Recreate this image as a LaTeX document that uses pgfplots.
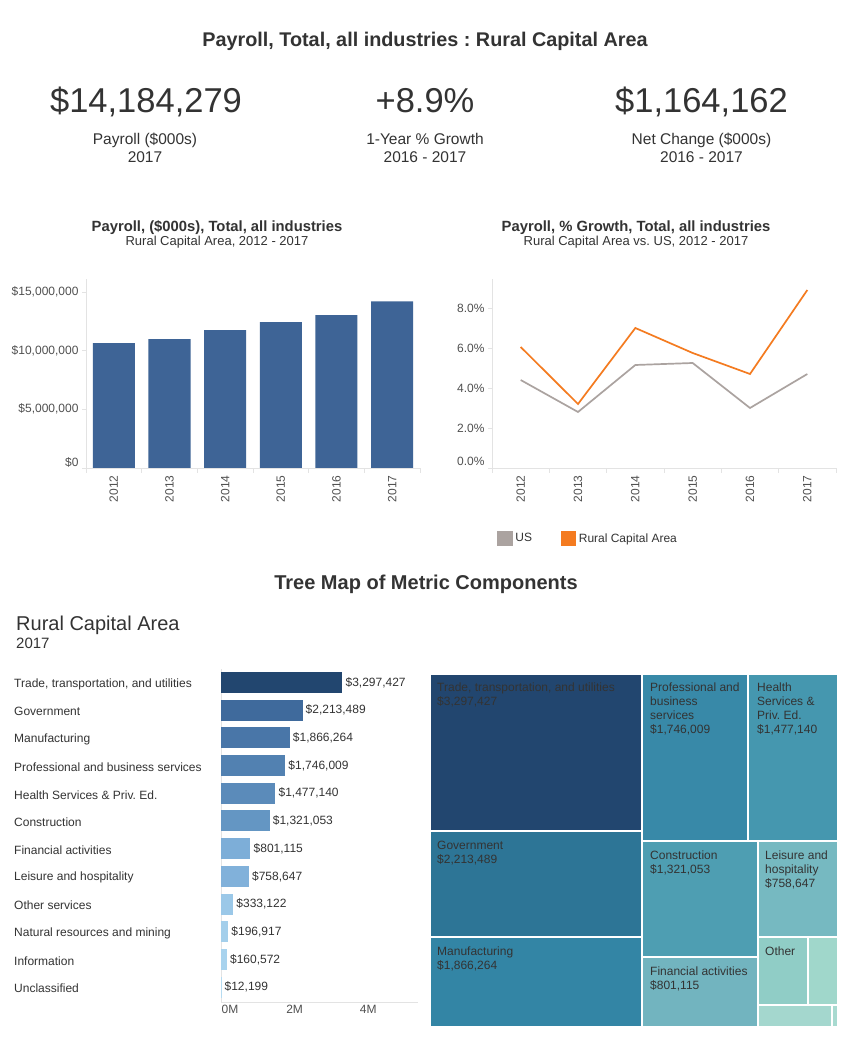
\documentclass[border=0pt]{standalone}
\usepackage{fontspec}
\setmainfont{Liberation Sans}
\usepackage{pgfplots}
\pgfplotsset{compat=1.18}
\frenchspacing

\definecolor{txt}{HTML}{333333}
\definecolor{tickc}{HTML}{505050}
\definecolor{axisgray}{HTML}{E3E3E3}
\definecolor{barblue}{HTML}{3E6496}
\definecolor{rcaorange}{HTML}{F47B20}
\definecolor{usgray}{HTML}{ABA3A0}
% horizontal bars
\definecolor{h1}{HTML}{22466F}
\definecolor{h2}{HTML}{3F6A9C}
\definecolor{h3}{HTML}{4976A8}
\definecolor{h4}{HTML}{5281B1}
\definecolor{h5}{HTML}{5B8BBA}
\definecolor{h6}{HTML}{6496C3}
\definecolor{h7}{HTML}{7DAED8}
\definecolor{h8}{HTML}{81B1DA}
\definecolor{h9}{HTML}{9BC8E8}
\definecolor{h10}{HTML}{A4CFEB}
\definecolor{h11}{HTML}{A8D3EE}
\definecolor{h12}{HTML}{B5DBF1}
% treemap
\definecolor{t1}{HTML}{22466F}
\definecolor{t2}{HTML}{2D7596}
\definecolor{t3}{HTML}{3385A5}
\definecolor{t4}{HTML}{3889A8}
\definecolor{t5}{HTML}{4597AF}
\definecolor{t6}{HTML}{4E9EB2}
\definecolor{t7}{HTML}{72B4BF}
\definecolor{t8}{HTML}{76B9C1}
\definecolor{t9}{HTML}{90CDC6}
\definecolor{t10}{HTML}{A0D7CB}
\definecolor{t11}{HTML}{A4D7CE}
\definecolor{t12}{HTML}{A8DAD0}

\pgfplotsset{
  hb/.style 2 args={xbar, bar width=21pt, bar shift=0pt, fill=#1, draw=none,
    nodes near coords={#2},
    every node near coord/.append style={anchor=west, inner sep=0pt, xshift=3pt,
      font=\fontsize{12}{14}\selectfont, text=txt}},
  tm/.style={fill=#1, draw=white, line width=1.2pt},
}
\tikzset{
  tmlabel/.style={anchor=north west, align=left, inner sep=0pt,
    font=\fontsize{12}{14}\selectfont, text=txt},
}

\begin{document}
\begin{tikzpicture}
\path[use as bounding box, fill=white] (0,0) rectangle (849pt,1038pt);

% ---- Header ----
\node[anchor=base, font=\fontsize{19.8}{23}\selectfont\bfseries, text=txt, inner sep=0pt]
  at (425pt,991pt) {Payroll, Total, all industries : Rural Capital Area};

\node[anchor=base, font=\fontsize{34.5}{40}\selectfont, text=txt, inner sep=0pt] at (146pt,925pt) {\$14,184,279};
\node[anchor=base, font=\fontsize{34.5}{40}\selectfont, text=txt, inner sep=0pt] at (425pt,925pt) {+8.9\%};
\node[anchor=base, font=\fontsize{34.5}{40}\selectfont, text=txt, inner sep=0pt] at (701.5pt,925pt) {\$1,164,162};

\node[anchor=base, font=\fontsize{15.5}{18}\selectfont, text=txt, inner sep=0pt] at (145pt,893pt) {Payroll (\$000s)};
\node[anchor=base, font=\fontsize{15.5}{18}\selectfont, text=txt, inner sep=0pt] at (145pt,875pt) {2017};
\node[anchor=base, font=\fontsize{15.5}{18}\selectfont, text=txt, inner sep=0pt] at (425pt,893pt) {1-Year \% Growth};
\node[anchor=base, font=\fontsize{15.5}{18}\selectfont, text=txt, inner sep=0pt] at (425pt,875pt) {2016 - 2017};
\node[anchor=base, font=\fontsize{15.5}{18}\selectfont, text=txt, inner sep=0pt] at (701.5pt,893pt) {Net Change (\$000s)};
\node[anchor=base, font=\fontsize{15.5}{18}\selectfont, text=txt, inner sep=0pt] at (701.5pt,875pt) {2016 - 2017};

% ---- chart titles ----
\node[anchor=base, font=\fontsize{14.8}{17}\selectfont\bfseries, text=txt, inner sep=0pt] at (217pt,806pt) {Payroll, (\$000s), Total, all industries};
\node[anchor=base, font=\fontsize{13}{15}\selectfont, text=txt, inner sep=0pt] at (217pt,792pt) {Rural Capital Area, 2012 - 2017};
\node[anchor=base, font=\fontsize{14.8}{17}\selectfont\bfseries, text=txt, inner sep=0pt] at (636pt,806pt) {Payroll, \% Growth, Total, all industries};
\node[anchor=base, font=\fontsize{13}{15}\selectfont, text=txt, inner sep=0pt] at (636pt,792pt) {Rural Capital Area vs. US, 2012 - 2017};

% ---- Bar chart ----
\begin{axis}[
  at={(86pt,570pt)}, anchor=south west,
  scale only axis, width=334pt, height=189pt,
  xmin=-0.5, xmax=5.5, ymin=0, ymax=16.1e6,
  axis lines*=left,
  axis line style={draw=axisgray, line width=0.8pt},
  xtick={0,1,2,3,4,5}, xticklabels={2012,2013,2014,2015,2016,2017},
  major x tick style={draw=none},
  minor xtick={-0.5,0.5,1.5,2.5,3.5,4.5,5.5},
  minor tick length=5pt,
  ytick={5e6,10e6,15e6},
  yticklabels={{\$5,000,000},{\$10,000,000},{\$15,000,000}},
  extra y ticks={0}, extra y tick labels={\$0},
  extra y tick style={yticklabel style={yshift=6pt}},
  scaled y ticks=false,
  tick align=outside, major tick length=4pt,
  tick style={draw=axisgray, line width=0.8pt},
  ticklabel style={font=\fontsize{12}{14}\selectfont, text=tickc},
  xticklabel style={rotate=90, anchor=east},
]
\addplot[ybar, bar width=42pt, bar shift=0pt, fill=barblue, draw=none]
  coordinates {(0,10640000) (1,10980000) (2,11750000) (3,12435640) (4,13020117) (5,14184279)};
\end{axis}

% ---- Line chart ----
\begin{axis}[
  at={(492pt,570pt)}, anchor=south west,
  scale only axis, width=344pt, height=189pt,
  xmin=-0.5, xmax=5.5, ymin=0, ymax=9.45,
  axis lines*=left,
  axis line style={draw=axisgray, line width=0.8pt},
  xtick={0,1,2,3,4,5}, xticklabels={2012,2013,2014,2015,2016,2017},
  major x tick style={draw=none},
  minor xtick={-0.5,0.5,1.5,2.5,3.5,4.5,5.5},
  minor tick length=5pt,
  ytick={2,4,6,8}, yticklabels={2.0\%,4.0\%,6.0\%,8.0\%},
  extra y ticks={0}, extra y tick labels={0.0\%},
  extra y tick style={yticklabel style={yshift=7pt}},
  tick align=outside, major tick length=4pt,
  tick style={draw=axisgray, line width=0.8pt},
  ticklabel style={font=\fontsize{12}{14}\selectfont, text=tickc},
  xticklabel style={rotate=90, anchor=east},
  legend columns=2,
  legend style={at={(0.006,-0.373)}, anchor=west, draw=none, fill=none,
    font=\fontsize{12}{14}\selectfont, text=txt,
    nodes={inner sep=2.5pt},
    /tikz/every even column/.append style={column sep=26pt}},
  legend cell align=left,
  legend image code/.code={\fill[#1] (0pt,-6.5pt) rectangle (14pt,6.5pt);},
]
\addplot[usgray, line width=1.7pt] coordinates {(0,4.4) (1,2.8) (2,5.15) (3,5.25) (4,3.0) (5,4.7)};
\addlegendentry{US}
\addplot[rcaorange, line width=1.7pt] coordinates {(0,6.05) (1,3.2) (2,7.0) (3,5.75) (4,4.7) (5,8.9)};
\addlegendentry{Rural Capital Area}
\end{axis}

% ---- Treemap section titles ----
\node[anchor=base, font=\fontsize{20}{24}\selectfont\bfseries, text=txt, inner sep=0pt] at (426pt,448pt) {Tree Map of Metric Components};
\node[anchor=base west, font=\fontsize{20}{24}\selectfont, text=txt, inner sep=0pt] at (16pt,407pt) {Rural Capital Area};
\node[anchor=base west, font=\fontsize{15}{18}\selectfont, text=txt, inner sep=0pt] at (16pt,389pt) {2017};

% ---- Horizontal bar chart ----
\begin{axis}[
  at={(221pt,36pt)}, anchor=south west,
  scale only axis, width=197pt, height=333pt,
  xmin=0, xmax=5.35e6, ymin=-0.54, ymax=11.49,
  axis lines*=left,
  axis line style={draw=axisgray, line width=0.8pt},
  ytick={0,1,2,3,4,5,6,7,8,9,10,11},
  yticklabels={Unclassified, Information, Natural resources and mining, Other services,
    Leisure and hospitality, Financial activities, Construction,
    Health Services \& Priv. Ed., Professional and business services,
    Manufacturing, Government, {Trade, transportation, and utilities}},
  yticklabel style={anchor=west, xshift=-207pt, inner sep=0pt, yshift=-1.5pt},
  xtick={2e6,4e6}, xticklabels={2M,4M},
  extra x ticks={0}, extra x tick labels={0M},
  extra x tick style={xticklabel style={xshift=9pt}},
  scaled x ticks=false,
  major tick length=0pt, tick style={draw=none},
  ticklabel style={font=\fontsize{12}{14}\selectfont, text=txt},
  xticklabel style={text=tickc},
]
\addplot[hb={h1}{\$3,297,427}] coordinates {(3297427,11)};
\addplot[hb={h2}{\$2,213,489}] coordinates {(2213489,10)};
\addplot[hb={h3}{\$1,866,264}] coordinates {(1866264,9)};
\addplot[hb={h4}{\$1,746,009}] coordinates {(1746009,8)};
\addplot[hb={h5}{\$1,477,140}] coordinates {(1477140,7)};
\addplot[hb={h6}{\$1,321,053}] coordinates {(1321053,6)};
\addplot[hb={h7}{\$801,115}] coordinates {(801115,5)};
\addplot[hb={h8}{\$758,647}] coordinates {(758647,4)};
\addplot[hb={h9}{\$333,122}] coordinates {(333122,3)};
\addplot[hb={h10}{\$196,917}] coordinates {(196917,2)};
\addplot[hb={h11}{\$160,572}] coordinates {(160572,1)};
\addplot[hb={h12}{\$12,199}] coordinates {(12199,0)};
\end{axis}

% ---- Treemap ----
\begin{axis}[
  at={(430pt,11pt)}, anchor=south west,
  scale only axis, width=408pt, height=353pt,
  xmin=430, xmax=838, ymin=-1027, ymax=-674,
  hide axis, clip=false,
]
\addplot[tm=t1] coordinates {(430,-674) (642,-674) (642,-831) (430,-831)} -- cycle;
\addplot[tm=t2] coordinates {(430,-831) (642,-831) (642,-937) (430,-937)} -- cycle;
\addplot[tm=t3] coordinates {(430,-937) (642,-937) (642,-1027) (430,-1027)} -- cycle;
\addplot[tm=t4] coordinates {(642,-674) (748,-674) (748,-841) (642,-841)} -- cycle;
\addplot[tm=t5] coordinates {(748,-674) (838,-674) (838,-841) (748,-841)} -- cycle;
\addplot[tm=t6] coordinates {(642,-841) (758,-841) (758,-957) (642,-957)} -- cycle;
\addplot[tm=t7] coordinates {(642,-957) (758,-957) (758,-1027) (642,-1027)} -- cycle;
\addplot[tm=t8] coordinates {(758,-841) (838,-841) (838,-937) (758,-937)} -- cycle;
\addplot[tm=t9] coordinates {(758,-937) (808,-937) (808,-1005) (758,-1005)} -- cycle;
\addplot[tm=t10] coordinates {(808,-937) (838,-937) (838,-1005) (808,-1005)} -- cycle;
\addplot[tm=t11] coordinates {(758,-1005) (832,-1005) (832,-1027) (758,-1027)} -- cycle;
\addplot[tm=t12] coordinates {(832,-1005) (838,-1005) (838,-1027) (832,-1027)} -- cycle;

\node[tmlabel] at (axis cs:437,-683) {Trade, transportation, and utilities\\\$3,297,427};
\node[tmlabel] at (axis cs:437,-841) {Government\\\$2,213,489};
\node[tmlabel] at (axis cs:437,-947) {Manufacturing\\\$1,866,264};
\node[tmlabel] at (axis cs:650,-683) {Professional and\\business\\services\\\$1,746,009};
\node[tmlabel] at (axis cs:757,-683) {Health\\Services \&\\Priv. Ed.\\\$1,477,140};
\node[tmlabel] at (axis cs:650,-851) {Construction\\\$1,321,053};
\node[tmlabel] at (axis cs:650,-967) {Financial activities\\\$801,115};
\node[tmlabel] at (axis cs:765,-851) {Leisure and\\hospitality\\\$758,647};
\node[tmlabel] at (axis cs:765,-947) {Other};
\end{axis}
\end{tikzpicture}
\end{document}
